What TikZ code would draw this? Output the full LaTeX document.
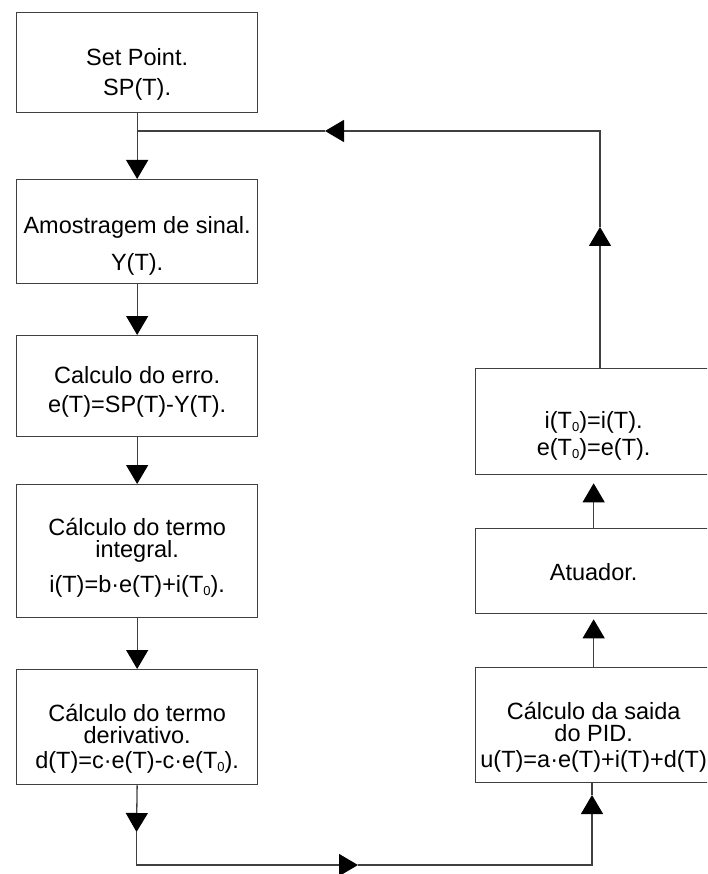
\documentclass[tikz,border=0pt]{standalone}
\usepackage{fontspec}
\setmainfont{Liberation Sans}
\usetikzlibrary{arrows.meta}
\newcommand{\Tnull}{T\raisebox{-3pt}{\fontsize{13}{13}\selectfont 0}}
\setlength{\lineskiplimit}{-30pt}

\begin{document}
\begin{tikzpicture}[x=1pt,y=-1pt,
  box/.style={draw=black!75, line width=1.3pt, inner sep=0pt, minimum width=241pt, align=center, anchor=north west, font=\fontsize{23.5}{22}\selectfont},
  line/.style={draw=black!75, line width=1.3pt},
  arr/.style={line, -{Triangle[length=19pt,width=22pt,color=black]}}]
\clip (0,0) rectangle (707,874);

%put the boxes on the left
\node[box, text height=83pt, text depth=17pt] (sp) at (16,12) {Set Point.\\[8pt]SP(T).};
\node[box, text height=91pt, text depth=13pt] (amostra) at (16,179) {Amostragem de sinal.\\[15pt]Y(T).};
\node[box, text height=77pt, text depth=24pt] (erro) at (16,335) {Calculo do erro.\\[7pt]e(T)=SP(T)-Y(T).};
\node[box, text height=108pt, text depth=25pt] (integral) at (16,484) {Cálculo do termo\\integral.\\[13pt]i(T)=b·e(T)+i(\Tnull).};
\node[box, text height=99pt, text depth=16pt] (deriv) at (16,669) {Cálculo do termo\\derivativo.\\[3pt]d(T)=c·e(T)-c·e(\Tnull).};

%put the boxes on the right
\node[box, minimum width=236pt, text height=87pt, text depth=19pt] (reset) at (475,368) {i(\Tnull)=i(T).\\[5pt]e(\Tnull)=e(T).};
\node[box, minimum width=236pt, text height=52pt, text depth=33pt] (atuador) at (475,528) {Atuador.};
\node[box, minimum width=236pt, text height=100pt, text depth=15pt] (pid) at (475,667) {Cálculo da saida\\do PID.\\[4pt]u(T)=a·e(T)+i(T)+d(T)};

\draw[arr] (sp.south) -- (amostra.north);
\draw[arr] (amostra.south) -- (erro.north);
\draw[arr] (erro.south) -- (integral.north);
\draw[arr] (integral.south) -- (deriv.north);

%loop at the bottom
\coordinate (dseta) at (136.5,832);
\coordinate (dcanto) at (136.5,865);
\coordinate (rseta) at (358,865);
\coordinate (rcanto) at (592,865);
\coordinate (useta) at (592,795);
\draw[arr] (deriv.south) -- (dseta);
\draw[arr] (dseta) -- (dcanto) -- (rseta);
\draw[arr] (rseta) -- (rcanto) -- (useta);
\draw[line] (useta) -- (useta |- pid.south);

\draw[arr, shorten >=5pt] (pid.north) -- (atuador.south);
\draw[arr, shorten >=8pt] (atuador.north) -- (reset.south);

%feedback at the top
\coordinate (junc) at (136.5,131);
\coordinate (oseta) at (600,227);
\coordinate (ocanto) at (600,131);
\coordinate (lseta) at (325,131);
\draw[arr] (reset.north -| ocanto) -- (oseta);
\draw[arr] (oseta) -- (ocanto) -- (lseta);
\draw[line] (lseta) -- (junc);

\end{tikzpicture}
\end{document}
